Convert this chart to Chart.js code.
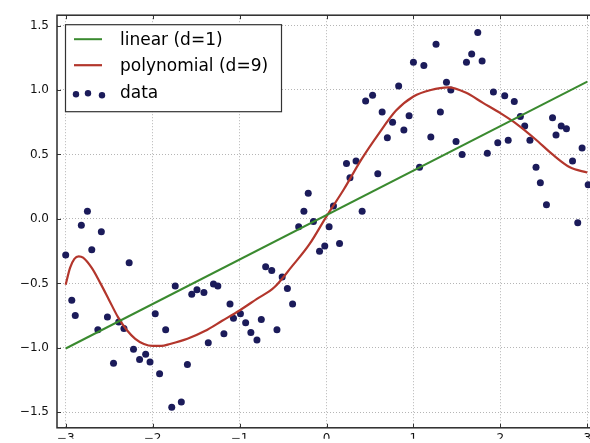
<!DOCTYPE html>
<html>
<head>
<meta charset="utf-8">
<script src="https://cdn.jsdelivr.net/npm/chart.js@4/dist/chart.umd.min.js"></script>
<style>
  html, body { margin: 0; padding: 0; background: #fff; }
  #wrap { width: 590px; height: 443px; overflow: hidden; position: relative; }
  canvas { display: block; }
</style>
</head>
<body>
<div id="wrap"><canvas id="c" width="600" height="443"></canvas></div>
<script>
// ---- data ----
const xTicks = [-3, -2, -1, 0, 1, 2, 3];
const yTicks = [-1.5, -1.0, -0.5, 0.0, 0.5, 1.0, 1.5];

const linearX = [-3.0, 3.0];
const linearY = [-1.005, 1.065];

const polyX = [-3.0, -2.95, -2.9, -2.85, -2.8, -2.7, -2.6, -2.5, -2.4, -2.3, -2.2, -2.1, -2.0, -1.9, -1.8, -1.6, -1.4, -1.2, -1.0, -0.8, -0.6, -0.4, -0.2, 0.0, 0.2, 0.4, 0.6, 0.8, 1.0, 1.2, 1.4, 1.6, 1.8, 2.0, 2.2, 2.4, 2.6, 2.8, 3.0];
const polyY = [-0.51, -0.38, -0.31, -0.29, -0.30, -0.38, -0.50, -0.63, -0.76, -0.86, -0.93, -0.97, -0.985, -0.985, -0.97, -0.93, -0.87, -0.79, -0.71, -0.62, -0.53, -0.37, -0.20, 0.02, 0.23, 0.46, 0.66, 0.84, 0.95, 1.00, 1.02, 0.98, 0.90, 0.82, 0.73, 0.62, 0.50, 0.40, 0.36];

const dataX = [-3.00, -2.93, -2.89, -2.82, -2.75, -2.70, -2.63, -2.59, -2.52, -2.45, -2.39, -2.33, -2.27, -2.22, -2.15, -2.08, -2.03, -1.97, -1.92, -1.85, -1.78, -1.74, -1.67, -1.60, -1.55, -1.49, -1.41, -1.36, -1.30, -1.25, -1.18, -1.11, -1.07, -0.99, -0.93, -0.87, -0.80, -0.75, -0.70, -0.63, -0.57, -0.51, -0.45, -0.39, -0.32, -0.26, -0.21, -0.15, -0.08, -0.02, 0.03, 0.08, 0.15, 0.23, 0.27, 0.34, 0.41, 0.45, 0.53, 0.59, 0.64, 0.70, 0.76, 0.83, 0.89, 0.95, 1.00, 1.07, 1.12, 1.20, 1.26, 1.31, 1.38, 1.43, 1.49, 1.56, 1.61, 1.67, 1.74, 1.79, 1.85, 1.92, 1.97, 2.05, 2.09, 2.16, 2.23, 2.28, 2.34, 2.41, 2.46, 2.53, 2.60, 2.64, 2.70, 2.76, 2.83, 2.89, 2.94, 3.01];
const dataY = [-0.28, -0.63, -0.75, -0.05, 0.06, -0.24, -0.86, -0.10, -0.76, -1.12, -0.80, -0.85, -0.34, -1.01, -1.09, -1.05, -1.11, -0.735, -1.20, -0.86, -1.46, -0.52, -1.42, -1.13, -0.585, -0.55, -0.57, -0.96, -0.505, -0.52, -0.89, -0.66, -0.77, -0.735, -0.805, -0.88, -0.94, -0.78, -0.37, -0.40, -0.86, -0.45, -0.54, -0.66, -0.06, 0.06, 0.20, -0.02, -0.25, -0.21, -0.06, 0.10, -0.19, 0.43, 0.32, 0.45, 0.06, 0.915, 0.96, 0.35, 0.83, 0.63, 0.75, 1.03, 0.69, 0.80, 1.215, 0.40, 1.19, 0.635, 1.355, 0.83, 1.06, 1.00, 0.60, 0.50, 1.215, 1.28, 1.445, 1.225, 0.51, 0.985, 0.59, 0.955, 0.61, 0.91, 0.795, 0.72, 0.61, 0.40, 0.28, 0.11, 0.785, 0.65, 0.72, 0.70, 0.45, -0.03, 0.55, 0.265];

const labels = ['linear (d=1)', 'polynomial (d=9)', 'data'];

// ---- styles ----
const GREEN = '#3a8a2f';
const RED = '#b3362c';
const NAVY = '#1b1b5a';
const FONT = '"DejaVu Sans", "Bitstream Vera Sans", sans-serif';

const zip = (xs, ys) => xs.map((x, i) => ({ x: x, y: ys[i] }));
const fmtMinus = s => String(s).replace('-', '\u2212');

const framePlugin = {
  id: 'frame',
  afterDatasetsDraw(chart) {
    const { ctx, chartArea: a, scales } = chart;
    ctx.save();
    ctx.strokeStyle = '#333';
    ctx.lineWidth = 1;
    const tl = 4;
    xTicks.forEach(v => {
      const px = Math.round(scales.x.getPixelForValue(v)) + 0.5;
      ctx.beginPath();
      ctx.moveTo(px, a.bottom); ctx.lineTo(px, a.bottom - tl);
      ctx.moveTo(px, a.top); ctx.lineTo(px, a.top + tl);
      ctx.stroke();
    });
    yTicks.forEach(v => {
      const py = Math.round(scales.y.getPixelForValue(v)) + 0.5;
      ctx.beginPath();
      ctx.moveTo(a.left, py); ctx.lineTo(a.left + tl, py);
      ctx.moveTo(a.right, py); ctx.lineTo(a.right - tl, py);
      ctx.stroke();
    });
    ctx.strokeStyle = '#2b2b2b';
    ctx.lineWidth = 1.5;
    ctx.strokeRect(a.left, a.top, a.right - a.left, a.bottom - a.top);
    ctx.restore();
  },
  afterDraw(chart) {
    const { ctx, chartArea: a } = chart;
    const ds = chart.data.datasets;
    const bx = a.left + 8, by = a.top + 9, bw = 216, bh = 87;
    ctx.save();
    ctx.fillStyle = '#fff';
    ctx.fillRect(bx, by, bw, bh);
    ctx.strokeStyle = '#333';
    ctx.lineWidth = 1.2;
    ctx.strokeRect(bx + 0.5, by + 0.5, bw, bh);
    const rows = [by + 15, by + 41, by + 68];
    ctx.font = '17px ' + FONT;
    ctx.textBaseline = 'middle';
    [0, 1].forEach(i => {
      ctx.strokeStyle = ds[i].borderColor;
      ctx.lineWidth = ds[i].borderWidth;
      ctx.beginPath();
      ctx.moveTo(bx + 9, rows[i]);
      ctx.lineTo(bx + 37, rows[i]);
      ctx.stroke();
    });
    ctx.fillStyle = ds[2].backgroundColor;
    [[bx + 11, rows[2] + 2], [bx + 23, rows[2] + 1], [bx + 37, rows[2] + 3]].forEach(p => {
      ctx.beginPath();
      ctx.arc(p[0], p[1], 3.2, 0, Math.PI * 2);
      ctx.fill();
    });
    ctx.fillStyle = '#000';
    ds.forEach((d, i) => ctx.fillText(d.label, bx + 55, rows[i] + 1));
    ctx.restore();
  }
};

new Chart(document.getElementById('c'), {
  type: 'scatter',
  data: {
    datasets: [
      {
        type: 'line', label: labels[0], data: zip(linearX, linearY),
        borderColor: GREEN, borderWidth: 2, pointRadius: 0, showLine: true, fill: false, order: 0
      },
      {
        type: 'line', label: labels[1], data: zip(polyX, polyY),
        borderColor: RED, borderWidth: 2.2, pointRadius: 0, showLine: true, fill: false,
        tension: 0.4, cubicInterpolationMode: 'monotone', order: 0
      },
      {
        type: 'scatter', label: labels[2], data: zip(dataX, dataY),
        backgroundColor: NAVY, borderColor: NAVY, borderWidth: 0, pointRadius: 3.5, order: 1
      }
    ]
  },
  options: {
    responsive: false,
    animation: false,
    layout: { padding: { left: 0, top: 15, right: 4, bottom: 0 } },
    plugins: { legend: { display: false }, tooltip: { enabled: false } },
    scales: {
      x: {
        type: 'linear', min: -3.1, max: 3.1,
        afterBuildTicks: s => { s.ticks = xTicks.map(v => ({ value: v })); },
        afterFit: s => { s.height = 11; },
        grid: { color: '#b5b5b5', lineWidth: 1, drawTicks: false },
        border: { display: false, dash: [1, 2] },
        ticks: {
          padding: 4, autoSkip: false, maxRotation: 0, color: '#111',
          font: { family: FONT, size: 12 },
          callback: v => fmtMinus(v)
        }
      },
      y: {
        type: 'linear', min: -1.62, max: 1.58,
        afterBuildTicks: s => { s.ticks = yTicks.map(v => ({ value: v })); },
        afterFit: s => { s.width = 57; },
        grid: { color: '#b5b5b5', lineWidth: 1, drawTicks: false },
        border: { display: false, dash: [1, 2] },
        ticks: {
          padding: 8, color: '#111',
          font: { family: FONT, size: 12 },
          callback: v => fmtMinus(Number(v).toFixed(1))
        }
      }
    }
  },
  plugins: [framePlugin]
});
</script>
</body>
</html>
